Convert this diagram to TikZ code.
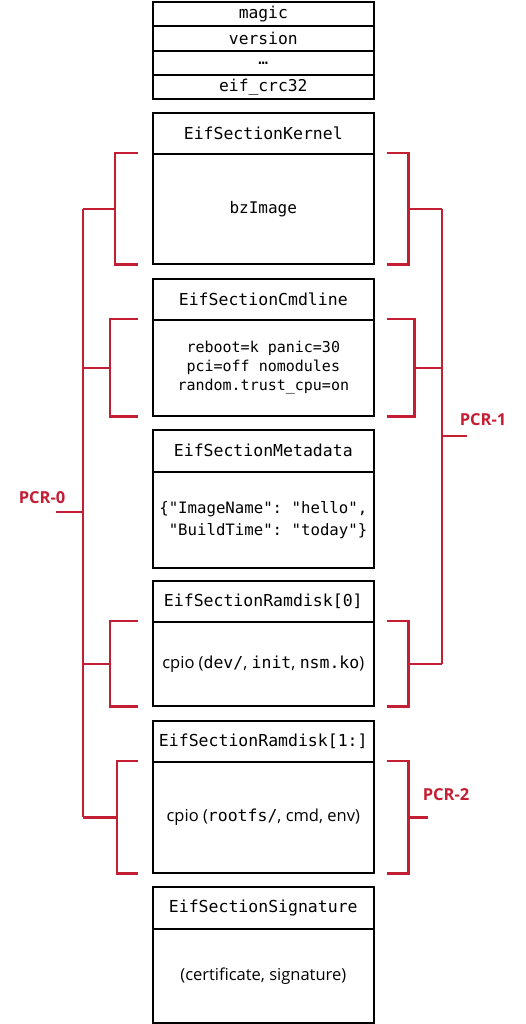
\documentclass[tikz,border=0pt]{standalone}
\usepackage{fontspec}
\setmainfont{Open Sans}
\setmonofont{DejaVu Sans Mono}
\usetikzlibrary{calc}
\definecolor{pcrred}{RGB}{196,30,52}
\tikzset{
  hdr/.style={draw=black, line width=1.6pt, minimum width=221pt, anchor=north west, inner sep=0pt,
     font=\fontsize{16.5}{19}\selectfont\ttfamily},
  bdy/.style={draw=black, line width=1.6pt, minimum width=221pt, anchor=north west, inner sep=0pt,
     align=center, font=\fontsize{16.5}{20}\selectfont},
  row/.style={draw=black, line width=1.6pt, minimum width=221pt, anchor=north west, inner sep=0pt,
     font=\fontsize{16.3}{18}\selectfont\ttfamily},
  pcr/.style={draw=pcrred, line width=2.4pt},
  pcrlabel/.style={text=pcrred, font=\fontsize{16.5}{19}\selectfont\bfseries, inner sep=0pt}
}
\newcommand\leftbrak[2]{% node, depth of bracket
  \draw[pcr] ($(#1.north west)+(-14,0)$) -- ++(-#2,0) |- ($(#1.south west)+(-14,0)$);
  \draw[pcr] ($(#1.west)+(-14-#2,0)$) -- (#1.west -| spine0);}
\newcommand\rightbrak[3]{% node, depth, target coordinate
  \draw[pcr] ($(#1.north east)+(12,0)$) -- ++(#2,0) |- ($(#1.south east)+(12,0)$);
  \draw[pcr] ($(#1.east)+(12+#2,0)$) -- (#1.east -| #3);}
\begin{document}
\begin{tikzpicture}[x=1pt,y=-1pt]
\useasboundingbox[fill=white] (0,0) rectangle (525,1024);
\coordinate (spine0) at (83,0);
\coordinate (spine1) at (442,0);
\coordinate (spine2) at (428,0);
% top table
\node[row, minimum height=24pt] (r1) at (152,1) {\raisebox{-2.5pt}{magic}};
\node[row, minimum height=25pt] (r2) at (152,25) {\raisebox{-1.5pt}{version}};
\node[row, minimum height=24pt] (r3) at (152,50) {\raisebox{-3pt}{…}};
\node[row, minimum height=24pt] (r4) at (152,74) {\raisebox{-1.5pt}{eif\_crc32}};
% kernel
\node[hdr, minimum height=41pt] (kh) at (152,112) {EifSectionKernel};
\node[bdy, minimum height=110pt, font=\fontsize{16}{19.5}\selectfont\ttfamily] (kb) at (152,153) {bzImage};
% cmdline
\node[hdr, minimum height=41pt] (ch) at (152,278) {EifSectionCmdline};
\node[bdy, minimum height=96pt, font=\fontsize{15}{19}\selectfont\ttfamily] (cb) at (152,319) {reboot=k panic=30\\pci=off nomodules\\random.trust\_cpu=on};
% metadata
\node[hdr, minimum height=42pt] (mh) at (152,429) {EifSectionMetadata};
\node[bdy, minimum height=96pt, font=\fontsize{15.7}{22}\selectfont\ttfamily] (mb) at (152,471) {\{"ImageName":~"hello",\\~"BuildTime":~"today"\}};
% ramdisk 0
\node[hdr, minimum height=41pt] (r0h) at (152,580) {EifSectionRamdisk[0]};
\node[bdy, minimum height=84pt] (r0b) at (152,621) {cpio (\texttt{dev/}, \texttt{init}, \texttt{nsm.ko})};
% ramdisk 1
\node[hdr, minimum height=41pt] (r1h) at (152,720) {EifSectionRamdisk[1:]};
\node[bdy, minimum height=111pt] (r1b) at (152,761) {cpio (\texttt{rootfs/}, cmd, env)};
% signature
\node[hdr, minimum height=42pt] (sh) at (152,886) {EifSectionSignature};
\node[bdy, minimum height=94pt] (sb) at (152,928) {(certificate, signature)};
% brackets
\leftbrak{kb}{23}
\leftbrak{cb}{28}
\leftbrak{r0b}{28}
\leftbrak{r1b}{21}
\rightbrak{kb}{22}{spine1}
\rightbrak{cb}{28}{spine1}
\rightbrak{r0b}{22}{spine1}
\rightbrak{r1b}{22}{spine2}
% spines
\draw[pcr] (kb.west -| spine0) -- (r1b.west -| spine0);
\draw[pcr] (kb.east -| spine1) -- (r0b.east -| spine1);
\coordinate (t0) at (83,512);
\coordinate (t1) at (442,436);
\draw[pcr] (t0) -- ++(-27,0);
\draw[pcr] (t1) -- ++(25,0);
\node[pcrlabel] (l0) at (42,498) {PCR-0};
\node[pcrlabel] (l1) at (483,420) {PCR-1};
\node[pcrlabel] (l2) at (446,795) {PCR-2};
\end{tikzpicture}
\end{document}
